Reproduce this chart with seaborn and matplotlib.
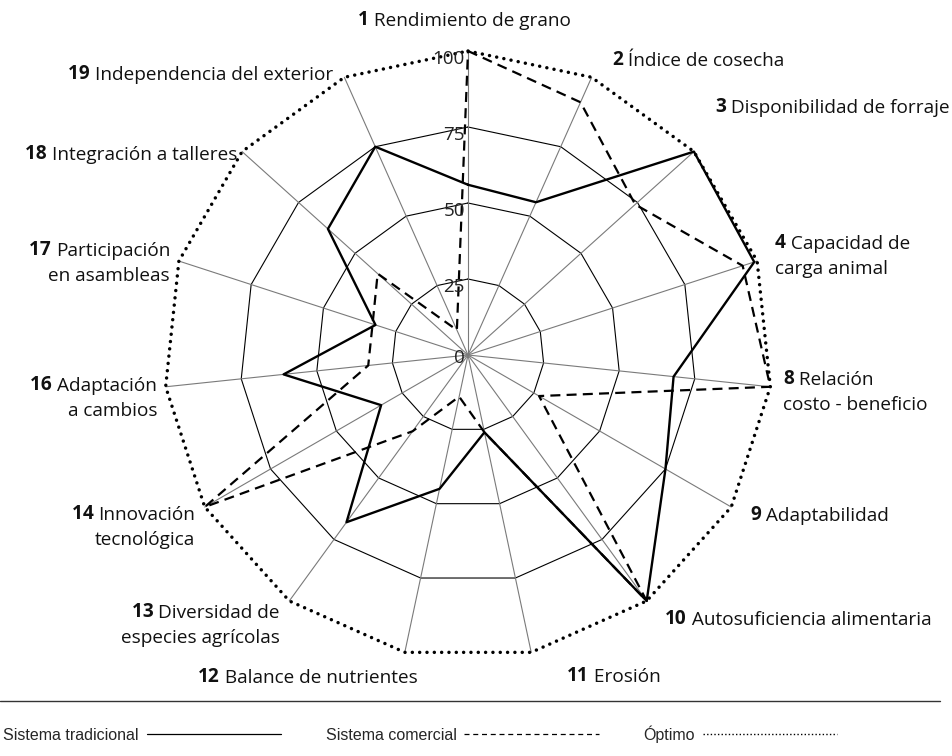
import numpy as np
import matplotlib
matplotlib.use("Agg")
import matplotlib.pyplot as plt
from matplotlib.lines import Line2D
import seaborn as sns

# ── Data ──────────────────────────────────────────────────────────────────────
NUMS = ["1", "2", "3", "4", "8", "9", "10", "11", "12", "13", "14", "16", "17", "18", "19"]
NAMES = [
    ("Rendimiento de grano", ""),
    ("Índice de cosecha", ""),
    ("Disponibilidad de forraje", ""),
    ("Capacidad de", "carga animal"),
    ("Relación", "costo - beneficio"),
    ("Adaptabilidad", ""),
    ("Autosuficiencia alimentaria", ""),
    ("Erosión", ""),
    ("Balance de nutrientes", ""),
    ("Diversidad de", "especies agrícolas"),
    ("Innovación", "tecnológica"),
    ("Adaptación", "a cambios"),
    ("Participación", "en asambleas"),
    ("Integración a talleres", ""),
    ("Independencia del exterior", ""),
]
TRADICIONAL = [56, 55, 100, 99, 68, 75, 100, 26, 45, 68, 33, 61, 32, 62, 75]
COMERCIAL   = [100, 91, 74, 95, 100, 27, 100, 26, 14, 31, 100, 33, 33, 40, 9]
OPTIMO      = [100, 100, 100, 100, 100, 100, 100, 100, 100, 100, 100, 100, 100, 100, 100]
RINGS       = [25, 50, 75]
TICKS       = [0, 25, 50, 75, 100]

# ── Layout (pixels) ───────────────────────────────────────────────────────────
W, H = 952, 756
CX, CY = 468, 355
SCALE = 3.04          # px per unit
# label anchor: (x, y_center_first_line, align)
LABEL_POS = [
    (358, 18, "left"),
    (612, 58, "left"),
    (715, 105, "left"),
    (775, 241, "left"),
    (783, 377, "left"),
    (750, 513, "left"),
    (665, 617, "left"),
    (567, 674, "left"),
    (198, 675, "left"),
    (280, 610, "right"),
    (195, 512, "right"),
    (157, 383, "right"),
    (170, 248, "right"),
    (237, 152, "right"),
    (333, 72, "right"),
]

FONT = ["Open Sans", "DejaVu Sans"]
NARROW = ["Liberation Sans Narrow", "Liberation Sans", "DejaVu Sans"]
FS = 13.7
LINE_H = 25

sns.set_theme(style="white")
plt.rcParams["font.family"] = FONT

fig = plt.figure(figsize=(W / 100, H / 100), dpi=100)
ax = fig.add_axes([0, 0, 1, 1])
ax.axis("off")

n = len(NUMS)
theta = np.deg2rad(90 - 360 / n * np.arange(n))


def xy(vals):
    v = np.asarray(list(vals) + [vals[0]], dtype=float)
    t = np.append(theta, theta[0])
    return v * np.cos(t), v * np.sin(t)


# grid rings and spokes
for r in RINGS:
    gx, gy = xy([r] * n)
    ax.plot(gx, gy, color="black", lw=0.8, zorder=1)
for t in theta:
    ax.plot([0, 100 * np.cos(t)], [0, 100 * np.sin(t)], color="#7a7a7a", lw=0.8, zorder=1)

# series
ox, oy = xy(OPTIMO)
sns.lineplot(x=ox, y=oy, sort=False, estimator=None, ax=ax, color="black",
             lw=2.5, linestyle=(0, (0.01, 2.1)), dash_capstyle="round", zorder=3)
cx_, cy_ = xy(COMERCIAL)
sns.lineplot(x=cx_, y=cy_, sort=False, estimator=None, ax=ax, color="black",
             lw=1.6, linestyle=(0, (4.5, 2.8)), zorder=4)
tx, ty = xy(TRADICIONAL)
sns.lineplot(x=tx, y=ty, sort=False, estimator=None, ax=ax, color="black",
             lw=1.7, zorder=5)
ax.set_xlim(-CX / SCALE, (W - CX) / SCALE)
ax.set_ylim(-(H - CY) / SCALE, CY / SCALE)
ax.set_xlabel("")
ax.set_ylabel("")

# radial tick labels
for v in TICKS:
    ax.text(-1.0, v - 2.6 if v else -1.0, str(v), ha="right", va="center",
            fontsize=13.5, color="#222222", zorder=6)


# axis labels: bold number + regular text
def fy(y_center):
    return 1 - (y_center + 12) / H


for num, (l1, l2), (px, py, al) in zip(NUMS, NAMES, LABEL_POS):
    if al == "left":
        b = fig.text(px / W, fy(py), num, ha="left", va="bottom",
                     fontsize=FS, fontweight="bold", color="#111111")
        ax.annotate(" " + l1, xy=(1, 0), xycoords=b, ha="left", va="bottom",
                    fontsize=FS, color="#111111")
        if l2:
            fig.text(px / W, fy(py + LINE_H), l2, ha="left", va="bottom",
                     fontsize=FS, color="#111111")
    else:
        t1 = fig.text(px / W, fy(py), l1, ha="right", va="bottom",
                      fontsize=FS, color="#111111")
        ax.annotate(num + " ", xy=(0, 0), xycoords=t1, ha="right", va="bottom",
                    fontsize=FS, fontweight="bold", color="#111111")
        if l2:
            fig.text(px / W, fy(py + LINE_H), l2, ha="right", va="bottom",
                     fontsize=FS, color="#111111")

# legend strip
fig.add_artist(Line2D([0, 940 / W], [1 - 701 / H] * 2, color="#333333", lw=1.0))
handles = [
    Line2D([], [], color="black", lw=0.9),
    Line2D([], [], color="black", lw=0.9, linestyle=(0, (4, 3))),
    Line2D([], [], color="black", lw=1.0, linestyle=(0, (1, 1.6))),
]
fig.legend(handles, ["Sistema tradicional", "Sistema comercial", "Óptimo"],
           loc="center left", bbox_to_anchor=(0.0, 1 - 734 / H), ncol=3,
           frameon=False, markerfirst=False, handlelength=8.4, handletextpad=0.5,
           columnspacing=2.8, borderaxespad=0, borderpad=0.2,
           prop={"family": NARROW, "size": 11.5})

fig.savefig("out.png", dpi=100)
